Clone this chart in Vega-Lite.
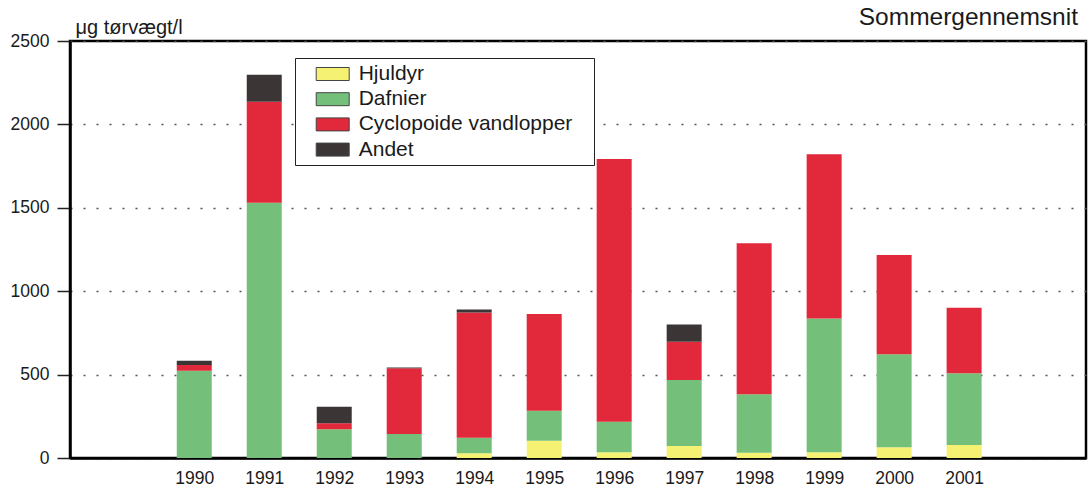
{
  "$schema": "https://vega.github.io/schema/vega-lite/v6.json",
  "autosize": {"type": "none"},
  "padding": {"left": 70, "top": 41, "right": 3, "bottom": 30},
  "width": 1016,
  "height": 417,
  "background": "white",
  "title": {"text": "Sommergennemsnit", "anchor": "end", "frame": "group", "fontSize": 24.5, "fontWeight": "normal", "font": "Liberation Sans", "color": "#1a1a1a", "baseline": "alphabetic", "offset": 0, "dy": 32, "dx": -8},
  "data": {"values": [
    {"year": 1990, "group": "Hjuldyr", "ord": 1, "value": 0},
    {"year": 1990, "group": "Dafnier", "ord": 2, "value": 523},
    {"year": 1990, "group": "Cyclopoide vandlopper", "ord": 3, "value": 34},
    {"year": 1990, "group": "Andet", "ord": 4, "value": 26},
    {"year": 1991, "group": "Hjuldyr", "ord": 1, "value": 0},
    {"year": 1991, "group": "Dafnier", "ord": 2, "value": 1530},
    {"year": 1991, "group": "Cyclopoide vandlopper", "ord": 3, "value": 606},
    {"year": 1991, "group": "Andet", "ord": 4, "value": 162},
    {"year": 1992, "group": "Hjuldyr", "ord": 1, "value": 0},
    {"year": 1992, "group": "Dafnier", "ord": 2, "value": 172},
    {"year": 1992, "group": "Cyclopoide vandlopper", "ord": 3, "value": 36},
    {"year": 1992, "group": "Andet", "ord": 4, "value": 100},
    {"year": 1993, "group": "Hjuldyr", "ord": 1, "value": 0},
    {"year": 1993, "group": "Dafnier", "ord": 2, "value": 144},
    {"year": 1993, "group": "Cyclopoide vandlopper", "ord": 3, "value": 394},
    {"year": 1993, "group": "Andet", "ord": 4, "value": 4},
    {"year": 1994, "group": "Hjuldyr", "ord": 1, "value": 28},
    {"year": 1994, "group": "Dafnier", "ord": 2, "value": 94},
    {"year": 1994, "group": "Cyclopoide vandlopper", "ord": 3, "value": 751},
    {"year": 1994, "group": "Andet", "ord": 4, "value": 18},
    {"year": 1995, "group": "Hjuldyr", "ord": 1, "value": 104},
    {"year": 1995, "group": "Dafnier", "ord": 2, "value": 180},
    {"year": 1995, "group": "Cyclopoide vandlopper", "ord": 3, "value": 579},
    {"year": 1995, "group": "Andet", "ord": 4, "value": 0},
    {"year": 1996, "group": "Hjuldyr", "ord": 1, "value": 34},
    {"year": 1996, "group": "Dafnier", "ord": 2, "value": 184},
    {"year": 1996, "group": "Cyclopoide vandlopper", "ord": 3, "value": 1575},
    {"year": 1996, "group": "Andet", "ord": 4, "value": 0},
    {"year": 1997, "group": "Hjuldyr", "ord": 1, "value": 72},
    {"year": 1997, "group": "Dafnier", "ord": 2, "value": 396},
    {"year": 1997, "group": "Cyclopoide vandlopper", "ord": 3, "value": 229},
    {"year": 1997, "group": "Andet", "ord": 4, "value": 104},
    {"year": 1998, "group": "Hjuldyr", "ord": 1, "value": 32},
    {"year": 1998, "group": "Dafnier", "ord": 2, "value": 350},
    {"year": 1998, "group": "Cyclopoide vandlopper", "ord": 3, "value": 905},
    {"year": 1998, "group": "Andet", "ord": 4, "value": 0},
    {"year": 1999, "group": "Hjuldyr", "ord": 1, "value": 34},
    {"year": 1999, "group": "Dafnier", "ord": 2, "value": 803},
    {"year": 1999, "group": "Cyclopoide vandlopper", "ord": 3, "value": 984},
    {"year": 1999, "group": "Andet", "ord": 4, "value": 0},
    {"year": 2000, "group": "Hjuldyr", "ord": 1, "value": 64},
    {"year": 2000, "group": "Dafnier", "ord": 2, "value": 558},
    {"year": 2000, "group": "Cyclopoide vandlopper", "ord": 3, "value": 595},
    {"year": 2000, "group": "Andet", "ord": 4, "value": 0},
    {"year": 2001, "group": "Hjuldyr", "ord": 1, "value": 78},
    {"year": 2001, "group": "Dafnier", "ord": 2, "value": 430},
    {"year": 2001, "group": "Cyclopoide vandlopper", "ord": 3, "value": 393},
    {"year": 2001, "group": "Andet", "ord": 4, "value": 0}
  ]},
  "mark": {"type": "bar", "width": 35},
  "encoding": {
    "x": {
      "field": "year", "type": "quantitative",
      "scale": {"domain": [1988.296, 2002.67], "nice": false, "zero": false},
      "axis": {"title": null, "values": [1990,1991,1992,1993,1994,1995,1996,1997,1998,1999,2000,2001], "format": "d", "ticks": false, "grid": false, "labelPadding": 11, "labelFontSize": 17.5, "labelFont": "Liberation Sans", "labelColor": "#1a1a1a", "domainColor": "black", "domainWidth": 2.5, "labelFlush": false, "labelOverlap": false}
    },
    "y": {
      "field": "value", "type": "quantitative", "stack": "zero",
      "scale": {"domain": [0, 2500], "nice": false},
      "axis": {
        "title": "μg tørvægt/l", "titleAngle": 0, "titleAlign": "left", "titleBaseline": "alphabetic", "titleX": 5, "titleY": -8,
        "titleFontSize": 20, "titleFontWeight": "normal", "titleFont": "Liberation Sans", "titleColor": "#1a1a1a",
        "values": [0, 500, 1000, 1500, 2000, 2500], "format": "d", "tickSize": 13, "tickColor": "#222", "tickWidth": 1.5,
        "labelPadding": 8, "labelFontSize": 17.5, "labelFont": "Liberation Sans", "labelColor": "#1a1a1a", "labelFlush": false,
        "domainColor": "black", "domainWidth": 2.5,
        "grid": true, "gridDash": [2, 11], "gridColor": "#555", "gridWidth": 1.5
      }
    },
    "color": {
      "field": "group", "type": "nominal",
      "scale": {"domain": ["Hjuldyr", "Dafnier", "Cyclopoide vandlopper", "Andet"], "range": ["#f5f173", "#74c07a", "#e2283b", "#3b3536"]},
      "legend": {
        "title": "\u00a0", "titleOrient": "right", "titleFontSize": 10, "titlePadding": 17,
        "orient": "none", "legendX": 225, "legendY": 17, "direction": "vertical",
        "padding": 5, "strokeColor": "#222", "fillColor": "white",
        "symbolType": "M-1.571,-0.619H1.571V0.619H-1.571Z", "symbolSize": 441, "symbolStrokeColor": "#444", "symbolStrokeWidth": 1, "symbolOpacity": 1,
        "symbolOffset": 21.7, "labelOffset": 15, "rowPadding": 4.2,
        "labelFontSize": 21, "labelFont": "Liberation Sans", "labelColor": "#1a1a1a", "labelLimit": 400
      }
    },
    "order": {"field": "ord", "type": "quantitative", "sort": "ascending"}
  },
  "config": {
    "view": {"stroke": "black", "strokeWidth": 2.5}
  }
}
